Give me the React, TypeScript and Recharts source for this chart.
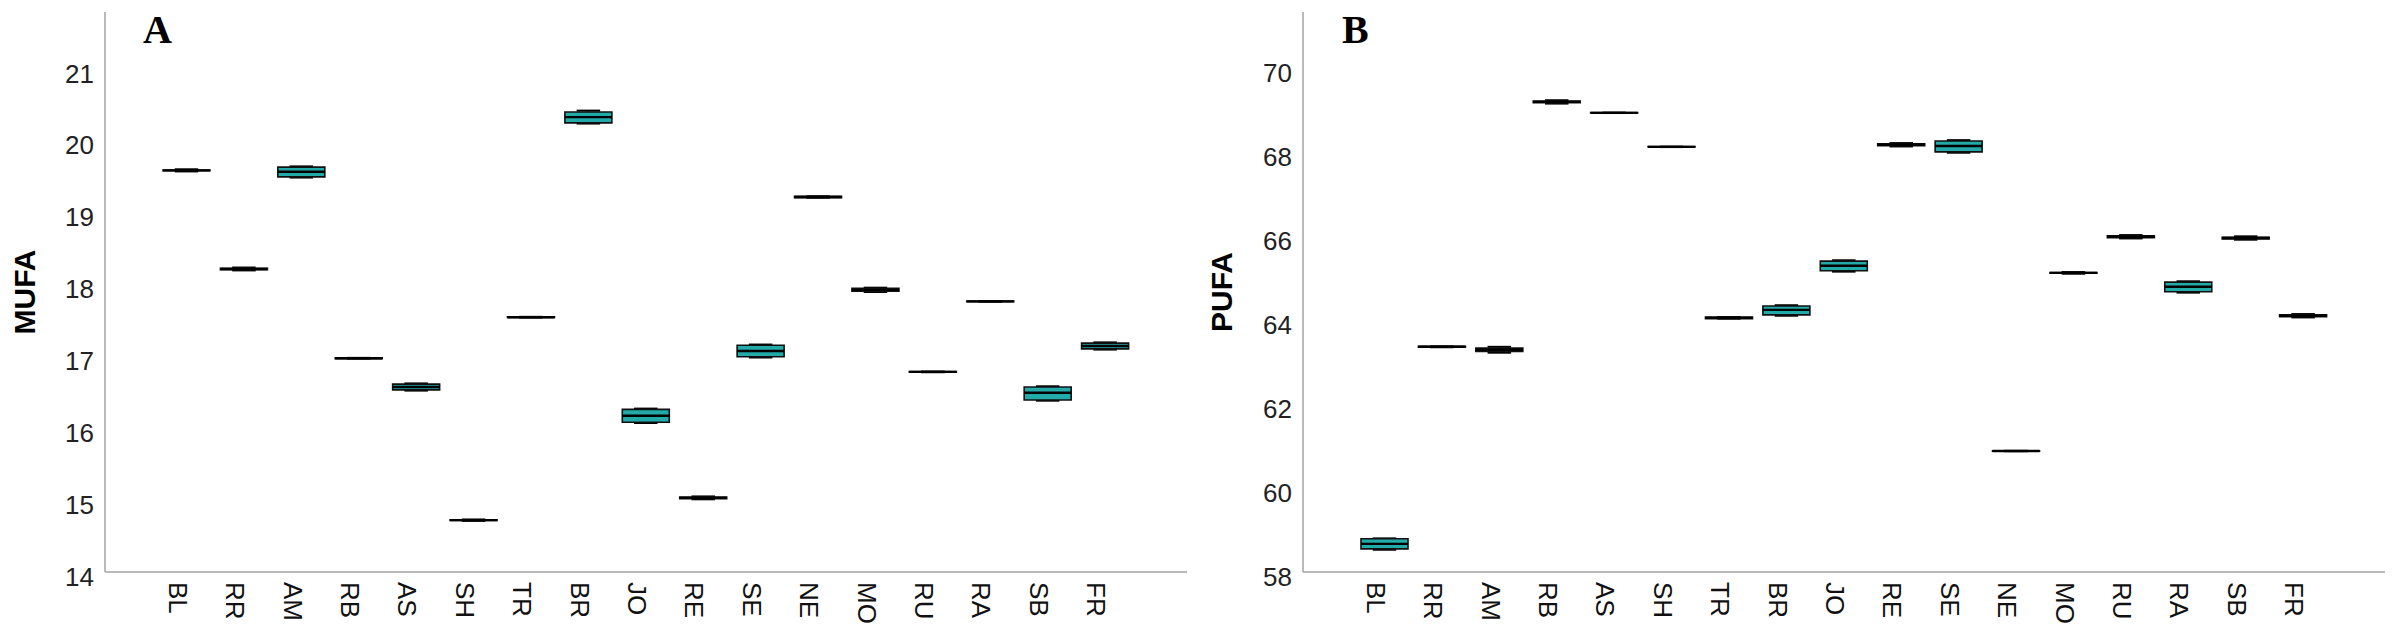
import React from "react";
import { Bar, BarChart, XAxis, YAxis } from "recharts";

const categories = [
  "BL", "RR", "AM", "RB", "AS", "SH", "TR", "BR", "JO",
  "RE", "SE", "NE", "MO", "RU", "RA", "SB", "FR",
];

// MUFA (panel A): whisker low, Q1, median, Q3, whisker high
const mufaLow = [19.565, 18.19, 19.48, 16.965, 16.52, 14.71, 17.535, 20.23, 16.07, 15.01, 16.98, 19.2, 17.89, 16.775, 17.755, 16.38, 17.09];
const mufaQ1 = [19.575, 18.2, 19.49, 16.965, 16.53, 14.715, 17.535, 20.24, 16.08, 15.02, 16.99, 19.2, 17.9, 16.775, 17.755, 16.39, 17.1];
const mufaMedian = [19.58, 18.21, 19.56, 16.97, 16.57, 14.72, 17.54, 20.32, 16.17, 15.03, 17.07, 19.21, 17.92, 16.78, 17.76, 16.49, 17.14];
const mufaQ3 = [19.585, 18.22, 19.625, 16.975, 16.61, 14.725, 17.545, 20.39, 16.26, 15.04, 17.15, 19.22, 17.94, 16.785, 17.765, 16.57, 17.18];
const mufaHigh = [19.595, 18.23, 19.635, 16.975, 16.62, 14.73, 17.545, 20.41, 16.27, 15.05, 17.16, 19.22, 17.95, 16.785, 17.765, 16.58, 17.19];

// PUFA (panel B)
const pufaLow = [58.53, 63.35, 63.22, 69.15, 68.925, 68.115, 64.03, 64.1, 65.15, 68.13, 67.98, 60.875, 65.1, 65.94, 64.65, 65.91, 64.06];
const pufaQ1 = [58.55, 63.35, 63.25, 69.17, 68.925, 68.115, 64.03, 64.12, 65.17, 68.15, 68.0, 60.875, 65.11, 65.96, 64.67, 65.93, 64.08];
const pufaMedian = [58.67, 63.36, 63.29, 69.19, 68.93, 68.12, 64.05, 64.24, 65.29, 68.17, 68.14, 60.88, 65.12, 65.98, 64.79, 65.95, 64.1];
const pufaQ3 = [58.79, 63.37, 63.33, 69.21, 68.935, 68.125, 64.07, 64.33, 65.4, 68.19, 68.26, 60.885, 65.13, 66.0, 64.9, 65.97, 64.12];
const pufaHigh = [58.8, 63.37, 63.36, 69.23, 68.935, 68.125, 64.07, 64.35, 65.42, 68.21, 68.28, 60.885, 65.14, 66.02, 64.92, 65.99, 64.14];

const mufaTicks = [14, 15, 16, 17, 18, 19, 20, 21];
const pufaTicks = [58, 60, 62, 64, 66, 68, 70];

const buildRows = (lo: number[], q1: number[], med: number[], q3: number[], hi: number[]) =>
  categories.map((name, i) => ({ name, lo: lo[i], q1: q1[i], med: med[i], q3: q3[i], hi: hi[i] }));

const mufaRows = buildRows(mufaLow, mufaQ1, mufaMedian, mufaQ3, mufaHigh);
const pufaRows = buildRows(pufaLow, pufaQ1, pufaMedian, pufaQ3, pufaHigh);

const BOX_FILL = "#22aaa8";
const AXIS_COLOR = "#a3a3a3";
const FONT = "Liberation Sans, Arial, sans-serif";

// bar runs from the axis base up to "hi"; the rest is placed proportionally
function makeBoxShape(base: number) {
  return (props: any) => {
    const { x, y, width, height, payload } = props;
    const ppu = height / (payload.hi - base);
    const py = (v: number) => y + (payload.hi - v) * ppu;
    const cx = x + width / 2;
    const top = py(payload.q3);
    const bottom = py(payload.q1);
    const mid = py(payload.med);
    const yHi = py(payload.hi);
    const yLo = py(payload.lo);
    const capL = x + width / 4;
    const capR = x + (width * 3) / 4;
    return (
      <g>
        <line x1={cx} x2={cx} y1={yHi} y2={top} stroke="#000" strokeWidth={1.5} />
        <line x1={cx} x2={cx} y1={bottom} y2={yLo} stroke="#000" strokeWidth={1.5} />
        <line x1={capL} x2={capR} y1={yHi} y2={yHi} stroke="#000" strokeWidth={2} />
        <line x1={capL} x2={capR} y1={yLo} y2={yLo} stroke="#000" strokeWidth={2} />
        <path
          d={`M${x},${top}H${x + width}V${bottom}H${x}Z`}
          fill={BOX_FILL}
          stroke="#111"
          strokeWidth={1.6}
        />
        <line x1={x} x2={x + width} y1={mid} y2={mid} stroke="#000" strokeWidth={2.4} />
      </g>
    );
  };
}

const XTick = ({ x, y, payload }: any) => (
  <text
    transform={`translate(${x},${y}) rotate(90)`}
    x={8}
    y={18}
    fontSize={26}
    fontFamily={FONT}
    fill="#111"
  >
    {payload.value}
  </text>
);

const YTick = ({ x, y, payload }: any) => (
  <text x={x} y={y + 5} dy="0.36em" textAnchor="end" fontSize={26} fontFamily={FONT} fill="#222">
    {payload.value}
  </text>
);

const YTitle = ({ viewBox, text, offsetX }: any) => (
  <text
    transform={`translate(${viewBox.x + offsetX},${viewBox.y + viewBox.height / 2}) rotate(-90)`}
    textAnchor="middle"
    dy="0.36em"
    fontSize={30}
    fontWeight="bold"
    fontFamily={FONT}
    fill="#000"
  >
    {text}
  </text>
);

interface PanelProps {
  rows: any[];
  domain: [number, number];
  ticks: number[];
  title: string;
  axisWidth: number;
  rightMargin: number;
  titleX: number;
}

function BoxPanel({ rows, domain, ticks, title, axisWidth, rightMargin, titleX }: PanelProps) {
  return (
    <BarChart
      width={1200}
      height={639}
      data={rows}
      margin={{ top: 12, right: rightMargin, bottom: 7, left: 0 }}
    >
      <XAxis
        dataKey="name"
        height={60}
        padding={{ left: 53, right: 53 }}
        tickLine={false}
        tickSize={0}
        tickMargin={2}
        axisLine={{ stroke: AXIS_COLOR, strokeWidth: 1.5 }}
        tick={<XTick />}
        interval={0}
      />
      <YAxis
        width={axisWidth}
        type="number"
        domain={domain}
        ticks={ticks}
        tickLine={false}
        tickSize={0}
        tickMargin={11}
        axisLine={{ stroke: AXIS_COLOR, strokeWidth: 1.5 }}
        tick={<YTick />}
        label={<YTitle text={title} offsetX={titleX} />}
      />
      <Bar
        dataKey="hi"
        barSize={47}
        isAnimationActive={false}
        shape={makeBoxShape(domain[0])}
      />
    </BarChart>
  );
}

export default function App() {
  return (
    <div
      style={{
        position: "absolute",
        left: 0,
        top: 0,
        width: 2400,
        height: 639,
        background: "#fff",
        display: "flex",
      }}
    >
      <BoxPanel
        rows={mufaRows}
        domain={[14, 21.78]}
        ticks={mufaTicks}
        title="MUFA"
        axisWidth={105}
        rightMargin={13}
        titleX={24}
      />
      <BoxPanel
        rows={pufaRows}
        domain={[58, 71.33]}
        ticks={pufaTicks}
        title="PUFA"
        axisWidth={103}
        rightMargin={15}
        titleX={21}
      />
      <svg
        width={2400}
        height={639}
        style={{ position: "absolute", left: 0, top: 0, pointerEvents: "none" }}
      >
        <text x={143} y={43} fontSize={40} fontWeight="bold" fontFamily="Liberation Serif, Times New Roman, serif">
          A
        </text>
        <text x={1342} y={43} fontSize={40} fontWeight="bold" fontFamily="Liberation Serif, Times New Roman, serif">
          B
        </text>
      </svg>
    </div>
  );
}
